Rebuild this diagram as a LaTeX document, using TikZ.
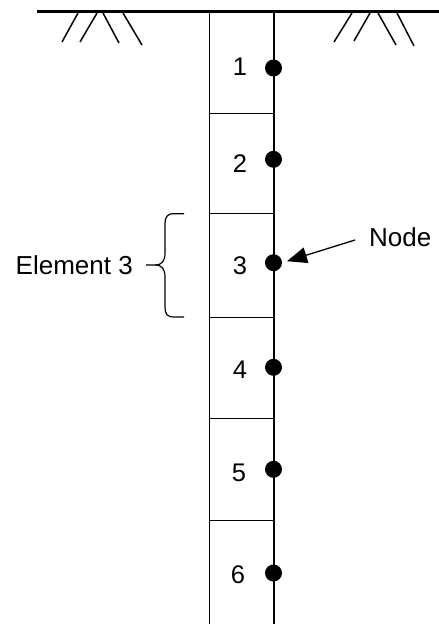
\documentclass[tikz,border=0pt]{standalone}
\usepackage{fontspec}
\setmainfont{Liberation Sans}
\usetikzlibrary{arrows.meta}
\begin{document}
\begin{tikzpicture}[x=1pt,y=-1pt,
  wall/.style={line width=1.6pt},
  divider/.style={line width=1.2pt},
  ground/.style={line width=3pt},
  hatch/.style={line width=1.5pt},
  dotnode/.style={circle,fill=black,inner sep=0pt,minimum size=17pt},
  numlabel/.style={font=\fontsize{25.5}{30}\selectfont,inner sep=0pt},
  txt/.style={font=\fontsize{26}{30}\selectfont,inner sep=0pt},
  bracestyle/.style={line width=1.2pt},
  pointer/.style={line width=1.3pt,-{Triangle[length=20pt,width=16pt]}}]
\useasboundingbox (0,0) rectangle (439,624);
% ground
\draw[ground] (37,11.5) -- (439,11.5);
\draw[hatch] (62,42) -- (78,13) (80,42) -- (97,13) (103,13) -- (119,43) (123,13) -- (142,45);
\draw[hatch] (334,42) -- (352,13) (354,41) -- (370,13) (378,13) -- (396,45) (397,13) -- (414,46);
% walls
\draw[wall] (209.3,11) -- (209.3,624);
\draw[wall] (274,11) -- (274,624);
% dividers
\foreach \y in {113.3,213.5,317.3,418.5,520.7}
  \draw[divider] (209.3,\y) -- (274,\y);
% element numbers
\node[numlabel] (n1) at (240,67) {1};
\node[numlabel] (n2) at (240,164) {2};
\node[numlabel] (n3) at (240,266) {3};
\node[numlabel] (n4) at (240,370) {4};
\node[numlabel] (n5) at (239,473) {5};
\node[numlabel] (n6) at (238,575) {6};
% nodes
\node[dotnode] (d1) at (273.5,68) {};
\node[dotnode] (d2) at (273.5,159.3) {};
\node[dotnode] (d3) at (273.5,262.7) {};
\node[dotnode] (d4) at (273.5,367.3) {};
\node[dotnode] (d5) at (273.5,469.3) {};
\node[dotnode] (d6) at (273.5,573) {};
% brace
\draw[bracestyle] (184,213.7) -- (174,213.7) .. controls (167,213.7) and (165,217) .. (165,224)
  -- (165,253) .. controls (165,261) and (162,265) .. (155,265) -- (146,265);
\draw[bracestyle] (184,317) -- (174,317) .. controls (167,317) and (165,314) .. (165,307)
  -- (165,277) .. controls (165,269) and (162,265) .. (155,265);
\node[txt,anchor=east] (elem) at (133,265) {Element 3};
% node label and arrow
\node[txt,anchor=west] (nodelbl) at (369,237) {Node};
\coordinate (arrstart) at (355,240);
\draw[pointer,shorten >=5pt] (arrstart) -- (d3.east);
\end{tikzpicture}
\end{document}
